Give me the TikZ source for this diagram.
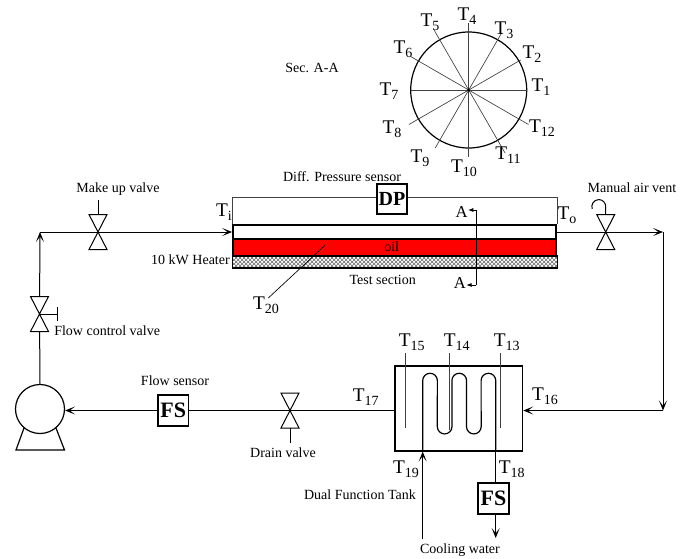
\documentclass[tikz,border=0pt]{standalone}
\usepackage{fontspec}
\setmainfont{Liberation Serif}
\usepackage{xcolor}
\usetikzlibrary{arrows.meta, patterns}

\newcommand{\tlabel}[1]{T\raisebox{-0.4ex}{\fontsize{10.5}{10.5}\selectfont #1}}

\begin{document}
\begin{tikzpicture}[
    x=0.75pt, y=-0.75pt,
    pipe/.style={line width=0.75pt},
    flow/.style={pipe, -{Stealth[length=7.5pt, width=6pt, inset=4pt]}},
    thinline/.style={line width=0.5pt, black!75},
    txt/.style={font=\fontsize{10.5}{12}\selectfont, inner sep=0pt},
    tag/.style={font=\fontsize{14.5}{16}\selectfont, inner sep=0pt},
    sensorbox/.style={draw, fill=white, line width=1.2pt, inner sep=0pt, font=\bfseries},
    layer/.style={draw, line width=1.1pt, inner sep=0pt, minimum width=242.5pt},
    secarrow/.style={line width=0.6pt, -{Latex[length=4pt, width=3pt]}},
    bowtie/.pic={\draw[line width=0.75pt, fill=white] (-9,-17.5) -- (9,-17.5) -- (-9,17.5) -- (9,17.5) -- cycle;}
]
\useasboundingbox (0,0) rectangle (689,558);

% section view
\node[circle, minimum size=87pt, inner sep=0pt, draw, line width=0.9pt] (sec) at (468.7,90) {};
\foreach \ang/\len in {0/58, 30/60, 60/66, 90/67, 120/69, 150/67, 180/58, 210/69, 240/67, 270/67, 300/73, 330/69}
    \draw[thinline] (sec.center) -- ++(\ang:\len*0.75pt);
\fill (sec.center) circle (1.2pt);
\foreach \num/\xpos/\ypos in {1/541/87, 2/532/54, 3/504/30, 4/467/16, 5/430/22, 6/403/49, 7/389/91, 8/392/129, 9/420/158, 10/464/168, 11/508/155, 12/542/128}
    \node[tag] (t\num) at (\xpos,\ypos) {\tlabel{\num}};
\node[txt] (seclabel) at (312,68) {Sec. A-A};

% test section
\node[layer, minimum height=10.5pt] (air) at (394.5,232) {};
\node[layer, fill=red, minimum height=12.5pt] (oil) at (394.5,247.5) {};
\node[layer, minimum height=9pt, minimum width=243.5pt, pattern=crosshatch, pattern color=black!60] (heater) at (395,262) {};
\node[txt] (oiltext) at (391.7,246.5) {oil};
\node[txt, anchor=east] (heatertext) at (230,260) {10 kW Heater};
\node[txt] (testtext) at (382.7,280) {Test section};
\node[tag] (ti) at (224,212) {\tlabel{i}};
\node[tag] (to) at (567,215) {\tlabel{o}};
\node[tag] (t20) at (266,305) {\tlabel{20}};
\coordinate (t20end) at (325,245.3);
\draw[thinline, black] (t20end) -- (268.3,298);

% pressure sensor
\node[sensorbox, font=\bfseries\fontsize{15}{15}\selectfont, minimum size=22.5pt] (dp) at (392,199) {DP};
\node[txt] (dptext) at (342,177) {Diff. Pressure sensor};
\draw[thinline] (dp.west |- 0,197.7) -| (air.north west);
\draw[thinline] (dp.east |- 0,197.7) -| (air.north east);

% section marks
\coordinate (secup) at (476,210);
\coordinate (secdown) at (476,285);
\node[tag, font=\fontsize{12.5}{14}\selectfont] (atop) at (461.7,212) {A};
\node[tag, font=\fontsize{12.5}{14}\selectfont] (abot) at (460,283) {A};
\draw[pipe] (secup) -- (secdown);
\draw[secarrow] (secup) -- (atop.north east |- secup);
\draw[secarrow] (secdown) -- (abot.east |- secdown);

% pump
\node[circle, minimum size=36.75pt, inner sep=0pt, draw, line width=0.9pt] (pump) at (40,409) {};
\draw[line width=0.9pt] (24,428) -- (16,450) -- (64.5,450) -- (56,428);

% valves
\coordinate (makeup) at (98,232);
\coordinate (vent) at (605.7,232);
\coordinate (control) at (39.5,314);
\coordinate (drain) at (290,410.5);
\coordinate (corner) at (40,232);
\coordinate (rightup) at (663,232);
\coordinate (rightdown) at (663,410.5);

% tank
\node[draw, line width=1.2pt, inner sep=0pt, minimum width=95.5pt, minimum height=63.5pt] (tank) at (458.8,408.4) {};
\coordinate (coilin) at (422.7,539);
\coordinate (coilout) at (495.7,538);
\foreach \xpos/\yend in {405.7/428, 449.7/430, 500/428}
    \draw[thinline] (\xpos,353) -- (\xpos,\yend);
\draw[line width=0.9pt] (422.7,450) -- (422.7,380.6) arc[start angle=180, end angle=0, radius=5.5pt]
    -- (437.3,426.6) arc[start angle=180, end angle=360, radius=5.5pt]
    -- (451.9,380.6) arc[start angle=180, end angle=0, radius=5.5pt]
    -- (466.5,426.6) arc[start angle=180, end angle=360, radius=5.5pt]
    -- (481.1,380.6) arc[start angle=180, end angle=0, radius=5.5pt] -- (495.7,450);
\node[tag] (t15) at (411.7,342) {\tlabel{15}};
\node[tag] (t14) at (456.7,342) {\tlabel{14}};
\node[tag] (t13) at (506.7,342) {\tlabel{13}};
\node[tag] (t17) at (365.7,397) {\tlabel{17}};
\node[tag] (t16) at (545,396) {\tlabel{16}};
\node[tag] (t19) at (406,469) {\tlabel{19}};
\node[tag] (t18) at (511.7,469) {\tlabel{18}};
\node[txt] (tanktext) at (360,495) {Dual Function Tank};
\node[txt] (cooltext) at (460,550) {Cooling water};
\node[sensorbox, font=\bfseries\fontsize{16.5}{16.5}\selectfont, minimum size=23.5pt] (fsout) at (493.5,498.5) {FS};
\node[sensorbox, font=\bfseries\fontsize{16.5}{16.5}\selectfont, minimum size=23pt] (fsin) at (173.3,410.5) {FS};

% piping
\draw[pipe] (pump.north) -- (control);
\draw[flow] (control) -- (corner);
\draw[flow] (corner) -- (air.west);
\draw[flow] (air.east) -- (rightup);
\draw[flow] (rightup) -- (rightdown);
\draw[flow] (rightdown) -- (tank.east |- rightdown);
\draw[pipe] (tank.west |- drain) -- (fsin.east);
\draw[flow] (fsin.west) -- (pump.east |- fsin);
\draw[flow] (coilin) -- (coilin |- tank.south);
\draw[pipe] (coilout |- tank.south) -- (fsout.north -| coilout);
\draw[flow] (fsout.south -| coilout) -- (coilout);

% valve bodies
\pic at (makeup) {bowtie};
\pic at (vent) {bowtie};
\pic at (control) {bowtie};
\pic at (drain) {bowtie};
\draw[pipe] (makeup) ++(0,-17.5) -- ++(0,-15);
\draw[pipe] (drain) ++(0,17.5) -- ++(0,15);
\draw[pipe] (control) -- ++(18,0) ++(0,-7) -- ++(0,14);
\draw[pipe] (vent) ++(0,-17.5) -- ++(0,-8) arc[start angle=0, end angle=200, radius=5.2pt];
\node[txt] (makeuptext) at (118,189) {Make up valve};
\node[txt] (venttext) at (632,188) {Manual air vent};
\node[txt, anchor=west] (controltext) at (54,331) {Flow control valve};
\node[txt] (draintext) at (283,453) {Drain valve};
\node[txt] (fstext) at (175,381) {Flow sensor};
\end{tikzpicture}
\end{document}
